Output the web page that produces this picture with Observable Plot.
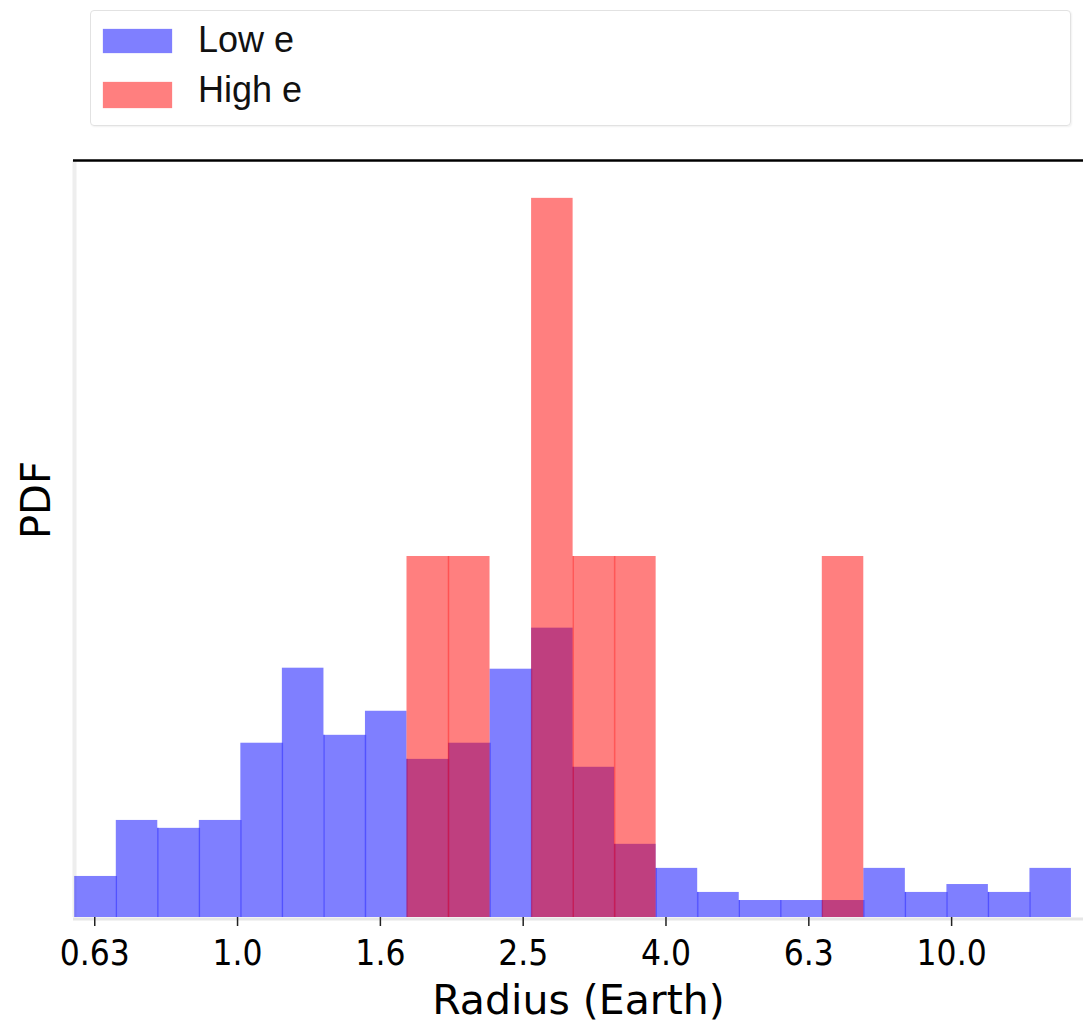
<!DOCTYPE html>
<html>
<head>
<meta charset="utf-8">
<script src="https://cdn.jsdelivr.net/npm/d3@7"></script>
<script src="https://cdn.jsdelivr.net/npm/@observablehq/plot@0.6"></script>
<style>
  html, body { margin: 0; padding: 0; background: #fff; }
  #wrap { width: 1083px; height: 1025px; position: relative; overflow: hidden; }
  #legend { position: relative; width: 1083px; height: 140px; font-family: "Liberation Sans", Arial, sans-serif; }
  #legend .box { position: absolute; left: 90px; top: 10px; width: 979px; height: 114px;
    border: 1.5px solid #e2e2e2; border-radius: 4px; box-shadow: 1px 1px 2px rgba(0,0,0,0.06); }
  #legend .sw { position: absolute; left: 103px; width: 69px; }
  #legend .lab { position: absolute; left: 198px; font-size: 36px; line-height: 36px; color: #111; white-space: nowrap; }
</style>
</head>
<body>
<div id="wrap">
  <div id="legend"></div>
  <div id="chart"></div>
</div>
<script>
// ---- data ----
const seriesNames = ["Low e", "High e"];
const seriesColors = ["blue", "red"];
// bin edges in Earth radii (log-spaced histogram bins)
const radiusEdges = [0.5915, 0.6764, 0.7732, 0.8841, 1.0107, 1.1555, 1.3213, 1.5105, 1.7270, 1.9743,
  2.2573, 2.5810, 2.9508, 3.3736, 3.8566, 4.4096, 5.0420, 5.7637, 6.5902, 7.5336, 8.6139, 9.8492,
  11.259, 12.873, 14.716];
// PDF values per bin
const lowE = [0.244, 0.577, 0.530, 0.577, 1.036, 1.482, 1.083, 1.226, 0.940, 1.036, 1.476, 1.720,
  0.893, 0.435, 0.292, 0.149, 0.101, 0.101, 0.101, 0.292, 0.149, 0.196, 0.149, 0.292];
const highE = [0, 0, 0, 0, 0, 0, 0, 0, 2.146, 2.146, 0, 4.275, 2.146, 2.146, 0, 0, 0, 0, 2.146, 0, 0, 0, 0, 0];
// x tick values and their labels
const tickValues = [0.631, 1.0, 1.585, 2.512, 3.981, 6.310, 10.0];
const tickLabels = ["0.63", "1.0", "1.6", "2.5", "4.0", "6.3", "10.0"];
const xDomain = [0.5892, 15.30];
const yDomain = [0, 4.5];

// ---- legend ----
const legend = document.getElementById("legend");
legend.innerHTML = `<div class="box"></div>
  <div class="sw" style="top:29px;height:24px;background:rgba(0,0,255,0.5);box-shadow:0 0 1px rgba(0,0,255,0.4)"></div>
  <div class="lab" style="top:21.5px">${seriesNames[0]}</div>
  <div class="sw" style="top:82px;height:26px;background:rgba(255,0,0,0.5);box-shadow:0 0 1px rgba(255,0,0,0.4)"></div>
  <div class="lab" style="top:71.5px">${seriesNames[1]}</div>`;

// ---- build tables ----
const bins = (vals) => vals.map((v, i) => ({x1: radiusEdges[i], x2: radiusEdges[i + 1], pdf: v})).filter(d => d.pdf > 0);
const lowBins = bins(lowE);
const highBins = bins(highE);
// internal separators between adjacent bars of the same series
const seps = (vals) => {
  const out = [];
  for (let i = 1; i < vals.length; i++) {
    const h = Math.min(vals[i - 1], vals[i]);
    if (h > 0) out.push({x: radiusEdges[i], h});
  }
  return out;
};
const labelOf = new Map(tickValues.map((v, i) => [v, tickLabels[i]]));

const chart = Plot.plot({
  width: 1083,
  height: 885,
  marginTop: 20,
  marginBottom: 108,
  marginLeft: 73,
  marginRight: 0,
  style: {fontFamily: "DejaVu Sans, sans-serif", background: "white", color: "black"},
  x: {type: "log", domain: xDomain},
  y: {domain: yDomain, axis: null},
  marks: [
    Plot.ruleX([xDomain[0]], {stroke: "#eeeeee", strokeWidth: 4, dx: 1}),
    Plot.ruleY([0], {stroke: "#e6e6e6", strokeWidth: 3, dy: 1.5}),
    Plot.rect(lowBins, {x1: "x1", x2: "x2", y1: 0, y2: "pdf", fill: seriesColors[0], fillOpacity: 0.5}),
    Plot.ruleX(seps(lowE), {x: "x", y1: 0, y2: "h", stroke: seriesColors[0], strokeOpacity: 0.35, strokeWidth: 1.5}),
    Plot.rect(highBins, {x1: "x1", x2: "x2", y1: 0, y2: "pdf", fill: seriesColors[1], fillOpacity: 0.5}),
    Plot.ruleX(seps(highE), {x: "x", y1: 0, y2: "h", stroke: seriesColors[1], strokeOpacity: 0.35, strokeWidth: 1.5}),
    Plot.ruleY([yDomain[1]], {stroke: "black", strokeWidth: 2.5}),
    Plot.axisX({
      ticks: tickValues,
      tickFormat: d => labelOf.get(d),
      tickSize: 9,
      tickPadding: 14,
      fontSize: 35,
      stroke: "#222",
      strokeWidth: 1.5,
      fill: "black",
      label: null
    }),
    Plot.text(["Radius (Earth)"], {frameAnchor: "bottom", dy: 96, lineAnchor: "bottom", fontSize: 41, fill: "black"}),
    Plot.text(["PDF"], {frameAnchor: "left", rotate: -90, dx: -36, fontSize: 40, fill: "black"})
  ]
});
chart.querySelectorAll('[aria-label="x-axis tick label"] text').forEach(t => {
  t.style.fontFamily = '"DejaVu Sans Condensed", "DejaVu Sans", sans-serif';
});
document.getElementById("chart").appendChild(chart);
</script>
</body>
</html>
